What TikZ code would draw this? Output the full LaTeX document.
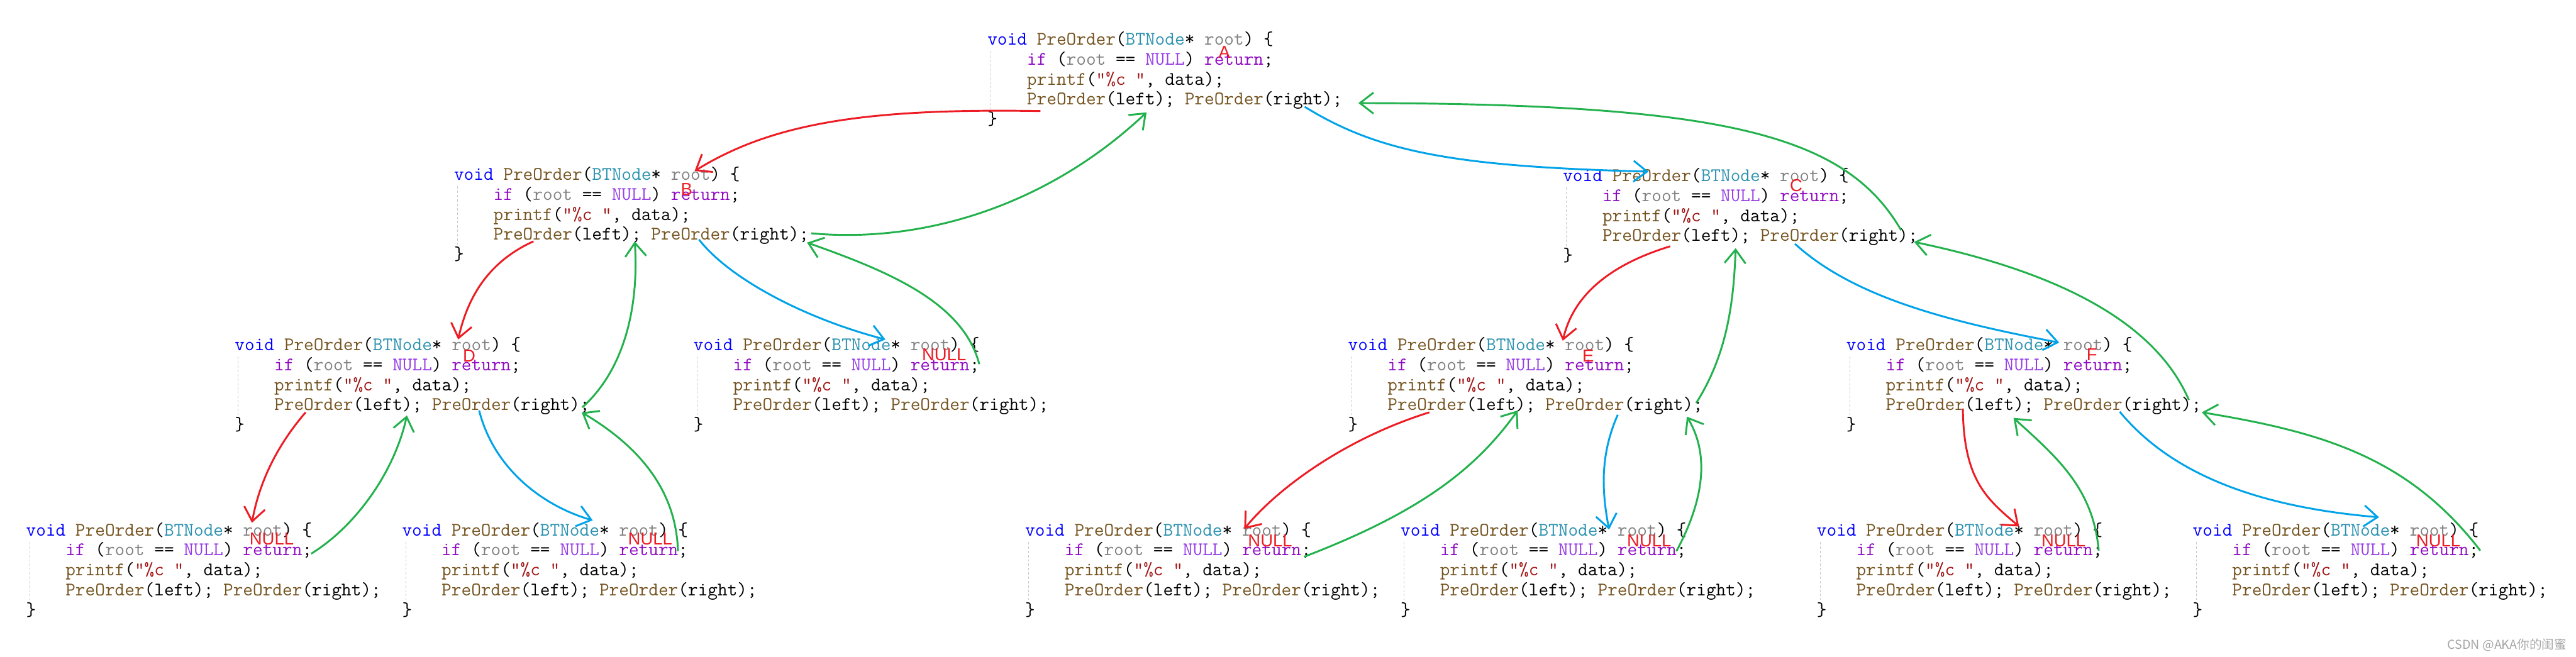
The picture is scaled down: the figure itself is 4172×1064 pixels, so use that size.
\documentclass[tikz,border=0pt]{standalone}
\usepackage{fontspec}
\newfontfamily\tagfont{Liberation Sans}
\newfontfamily\cjkfont{Noto Sans CJK SC}
\usetikzlibrary{arrows.meta,calc}
\definecolor{kwblue}{RGB}{0,0,255}
\definecolor{fnbrown}{RGB}{116,83,31}
\definecolor{tyteal}{RGB}{43,145,175}
\definecolor{pagray}{RGB}{128,128,128}
\definecolor{ctlpurple}{RGB}{143,8,196}
\definecolor{macviolet}{RGB}{150,60,230}
\definecolor{strred}{RGB}{163,21,21}
\definecolor{guidegray}{RGB}{200,200,200}
\definecolor{wmgray}{RGB}{165,165,165}
\definecolor{pred}{RGB}{237,28,36}
\definecolor{pgreen}{RGB}{34,177,76}
\definecolor{pblue}{RGB}{0,162,232}
\newcommand\cKw[1]{\textcolor{kwblue}{#1}}
\newcommand\cFn[1]{\textcolor{fnbrown}{#1}}
\newcommand\cTy[1]{\textcolor{tyteal}{#1}}
\newcommand\cPa[1]{\textcolor{pagray}{#1}}
\newcommand\cCtl[1]{\textcolor{ctlpurple}{#1}}
\newcommand\cMac[1]{\textcolor{macviolet}{#1}}
\newcommand\cStr[1]{\textcolor{strred}{#1}}
% the same five lines in every frame
\newcommand\preorder{\vtop{\baselineskip=16.15pt
  \hbox{\cKw{void} \cFn{PreOrder}(\cTy{BTNode}* \cPa{root}) \{}
  \hbox{\hphantom{xxxx}\cCtl{if} (\cPa{root} == \cMac{NULL}) \cCtl{return};}
  \hbox{\hphantom{xxxx}\cFn{printf}(\cStr{"\%c "}, data);}
  \hbox{\hphantom{xxxx}\cFn{PreOrder}(left); \cFn{PreOrder}(right);}
  \hbox{\}}}}
\tikzset{
  >={Straight Barb[length=11pt,width=17pt]},
  code/.style={font=\ttfamily\fontsize{15.5}{16.15}\selectfont,inner sep=0pt,anchor=base west},
  tag/.style={font=\tagfont\fontsize{14}{14}\selectfont,text=pred,inner sep=0pt},
  guide/.style={draw=guidegray,line width=0.5pt,dash pattern=on 2pt off 1.5pt},
  lcall/.style={->,draw=pred,line width=1.5pt},
  rcall/.style={->,draw=pblue,line width=1.5pt},
  ret/.style={->,draw=pgreen,line width=1.5pt},
}

\begin{document}
\begin{tikzpicture}[x=0.5pt,y=-0.5pt]
  \useasboundingbox (0,0) rectangle (4172,1064);

  % frames, one per call (level by level)
  \node[code] (A)   at (1599,73)  {\preorder};
  \node[code] (B)   at (735,292)  {\preorder};
  \node[code] (C)   at (2531,294) {\preorder};
  \node[code] (D)   at (380,568)  {\preorder};
  \node[code] (nB)  at (1123,568) {\preorder};
  \node[code] (E)   at (2183,568) {\preorder};
  \node[code] (F)   at (2990,568) {\preorder};
  \node[code] (nDl) at (42,868)   {\preorder};
  \node[code] (nDr) at (651,868)  {\preorder};
  \node[code] (nEl) at (1660,868) {\preorder};
  \node[code] (nEr) at (2268,868) {\preorder};
  \node[code] (nFl) at (2942,868) {\preorder};
  \node[code] (nFr) at (3551,868) {\preorder};
  \foreach \b in {A,B,C,D,nB,E,F,nDl,nDr,nEl,nEr,nFl,nFr}
    \draw[guide] ([shift={(6,10)}]\b.base west) -- ++(0,94);

  % left calls (red)
  \draw[lcall] ([shift={(86,107)}]A.base west) .. controls +(-285,-5) and +(125,-77) .. ([shift={(390,-15)}]B.base west);
  \draw[lcall] ([shift={(129,99)}]B.base west) .. controls +(-64,29) and +(18,-80) .. ([shift={(362,-18)}]D.base west);
  \draw[lcall] ([shift={(115,100)}]D.base west) .. controls +(-45,52) and +(12,-67) .. ([shift={(366,-21)}]nDl.base west);
  \draw[lcall] ([shift={(174,105)}]C.base west) .. controls +(-85,26) and +(19,-82) .. ([shift={(348,-16)}]E.base west);
  \draw[lcall] ([shift={(132,100)}]E.base west) .. controls +(-135,42) and +(55,-67) .. ([shift={(355,-11)}]nEl.base west);
  \draw[lcall] ([shift={(189,94)}]F.base west) .. controls +(1,118) and +(-50,-43) .. ([shift={(328,-15)}]nFl.base west);

  % right calls (blue)
  \draw[rcall] ([shift={(514,100)}]A.base west) .. controls +(117,72) and +(-320,-8) .. ([shift={(139,-16)}]C.base west);
  \draw[rcall] ([shift={(397,96)}]B.base west) .. controls +(48,62) and +(-134,-35) .. ([shift={(311,-18)}]nB.base west);
  \draw[rcall] ([shift={(396,97)}]D.base west) .. controls +(24,95) and +(-80,-23) .. ([shift={(309,-25)}]nDr.base west);
  \draw[rcall] ([shift={(376,101)}]C.base west) .. controls +(93,85) and +(-185,-35) .. ([shift={(345,-13)}]F.base west);
  \draw[rcall] ([shift={(437,104)}]E.base west) .. controls +(-30,68) and +(-11,-58) .. ([shift={(338,-10)}]nEr.base west);
  \draw[rcall] ([shift={(443,99)}]F.base west) .. controls +(77,93) and +(-213,-18) .. ([shift={(302,-30)}]nFr.base west);

  % returns (green)
  \draw[ret] ([shift={(579,86)}]B.base west) .. controls +(186,17) and +(-157,148) .. ([shift={(258,109)}]A.base west);
  \draw[ret] ([shift={(548,79)}]C.base west) .. controls +(-89,-153) and +(600,1) .. ([shift={(601,94)}]A.base west);
  \draw[ret] ([shift={(563,92)}]D.base west) .. controls +(67,-60) and +(7,109) .. ([shift={(293,99)}]B.base west);
  \draw[ret] ([shift={(463,22)}]nB.base west) .. controls +(-26,-100) and +(133,47) .. ([shift={(572,101)}]B.base west);
  \draw[ret] ([shift={(462,29)}]nDl.base west) .. controls +(76,-47) and +(-19,87) .. ([shift={(279,105)}]D.base west);
  \draw[ret] ([shift={(447,25)}]nDr.base west) .. controls +(-3,-103) and +(88,52) .. ([shift={(562,100)}]D.base west);
  \draw[ret] ([shift={(564,85)}]E.base west) .. controls +(53,-83) and +(-3,78) .. ([shift={(280,108)}]C.base west);
  \draw[ret] ([shift={(555,80)}]F.base west) .. controls +(-55,-128) and +(230,48) .. ([shift={(569,98)}]C.base west);
  \draw[ret] ([shift={(452,34)}]nEl.base west) .. controls +(188,-72) and +(-68,95) .. ([shift={(275,97)}]E.base west);
  \draw[ret] ([shift={(447,25)}]nEr.base west) .. controls +(50,-93) and +(33,55) .. ([shift={(549,107)}]E.base west);
  \draw[ret] ([shift={(457,24)}]nFl.base west) .. controls +(-9,-102) and +(69,63) .. ([shift={(271,109)}]F.base west);
  \draw[ret] ([shift={(466,24)}]nFr.base west) .. controls +(-117,-152) and +(194,32) .. ([shift={(576,100)}]F.base west);

  % node letters and NULL marks
  \node[tag] (tA) at (1983,85)  {A};
  \node[tag] (tB) at (1112,307) {B};
  \node[tag] (tC) at (2909,301) {C};
  \node[tag] (tD) at (760,577)  {D};
  \node[tag] (tE) at (2572,577) {E};
  \node[tag] (tF) at (3388,575) {F};
  \node[tag] (tnB)  at (1529,575) {NULL};
  \node[tag] (tnDl) at (440,873)  {NULL};
  \node[tag] (tnDr) at (1053,873) {NULL};
  \node[tag] (tnEl) at (2057,876) {NULL};
  \node[tag] (tnEr) at (2671,876) {NULL};
  \node[tag] (tnFl) at (3342,876) {NULL};
  \node[tag] (tnFr) at (3949,876) {NULL};

  \node[font=\cjkfont\fontsize{10}{10}\selectfont,text=wmgray,anchor=east,inner sep=0pt] (mark) at (4157,1045) {CSDN @AKA你的闺蜜};
\end{tikzpicture}
\end{document}
